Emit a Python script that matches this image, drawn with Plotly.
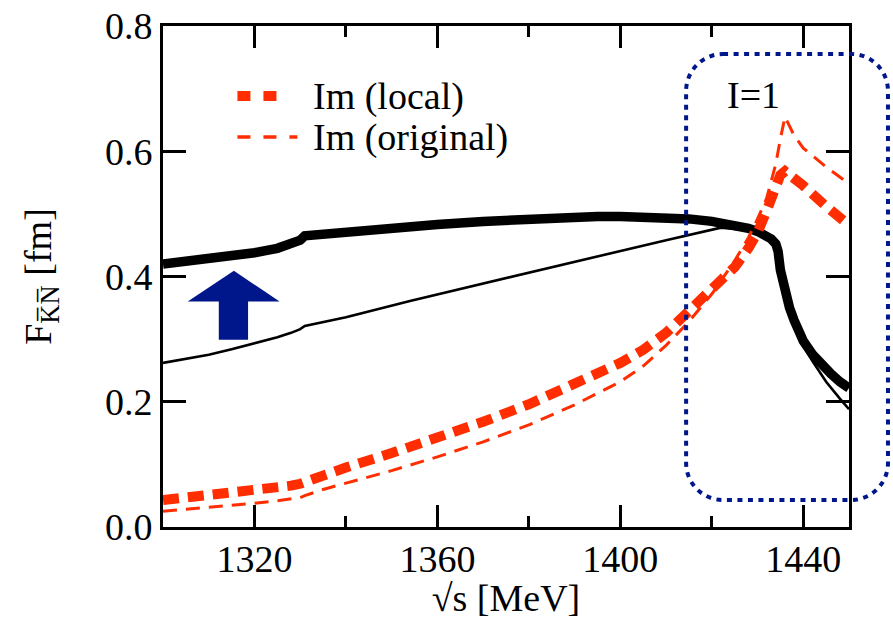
import plotly.graph_objects as go

# ---------------- data ----------------
x_re_local = [1300, 1305, 1310, 1315, 1320, 1325, 1328, 1330, 1331, 1335, 1340, 1350, 1360, 1370,
              1380, 1390, 1395, 1400, 1405, 1410, 1415, 1420, 1425, 1428, 1430, 1432, 1433, 1434,
              1434.5, 1435, 1436, 1437, 1438, 1440, 1442, 1444, 1446, 1448, 1450]
y_re_local = [0.420, 0.424, 0.428, 0.433, 0.438, 0.445, 0.451, 0.458, 0.465, 0.468, 0.471, 0.477,
              0.483, 0.488, 0.492, 0.495, 0.496, 0.496, 0.495, 0.494, 0.492, 0.488, 0.482, 0.477,
              0.472, 0.465, 0.460, 0.452, 0.440, 0.410, 0.375, 0.350, 0.330, 0.297, 0.276, 0.259,
              0.245, 0.232, 0.222]

x_re_orig = [1300, 1305, 1310, 1315, 1320, 1325, 1328, 1330, 1331, 1335, 1340, 1354, 1370, 1390,
             1410, 1422, 1428, 1432, 1434, 1435, 1436, 1438, 1440, 1442, 1445, 1448, 1450]
y_re_orig = [0.262, 0.268, 0.275, 0.284, 0.293, 0.303, 0.310, 0.316, 0.321, 0.327, 0.335, 0.361,
             0.389, 0.424, 0.458, 0.478, 0.474, 0.462, 0.445, 0.410, 0.370, 0.320, 0.290, 0.265,
             0.232, 0.205, 0.188]

x_im_local = [1300, 1310, 1320, 1325, 1328, 1330, 1331, 1335, 1340, 1350, 1360, 1370, 1380, 1390,
              1400, 1405, 1410, 1415, 1420, 1425, 1428, 1430, 1432, 1434, 1435, 1436, 1437, 1440,
              1445, 1450]
y_im_local = [0.043, 0.050, 0.058, 0.063, 0.066, 0.069, 0.072, 0.083, 0.095, 0.118, 0.142, 0.168,
              0.196, 0.227, 0.262, 0.283, 0.310, 0.345, 0.380, 0.415, 0.445, 0.470, 0.505, 0.545,
              0.562, 0.568, 0.563, 0.545, 0.512, 0.482]

x_im_orig = [1300, 1310, 1320, 1325, 1328, 1330, 1331, 1335, 1340, 1350, 1360, 1370, 1380, 1390,
             1400, 1405, 1410, 1415, 1420, 1425, 1428, 1430, 1432, 1434, 1435, 1436, 1437, 1438,
             1440, 1445, 1450]
y_im_orig = [0.025, 0.031, 0.038, 0.042, 0.045, 0.047, 0.050, 0.060, 0.070, 0.090, 0.112, 0.136,
             0.163, 0.195, 0.232, 0.257, 0.290, 0.328, 0.372, 0.425, 0.462, 0.492, 0.525, 0.580,
             0.620, 0.655, 0.640, 0.625, 0.605, 0.575, 0.548]

x_ticks = [1320, 1360, 1400, 1440]
y_ticks = [0.0, 0.2, 0.4, 0.6, 0.8]
legend_labels = ["Im (local)", "Im (original)"]
box_label = "I=1"

RED = "#ff2d00"
NAVY = "#00178c"
FONT = "Liberation Serif, Times New Roman, serif"
FS = 38

fig = go.Figure()
fig.add_trace(go.Scatter(x=x_re_orig, y=y_re_orig, mode="lines",
                         line=dict(color="black", width=2.6), showlegend=False))
fig.add_trace(go.Scatter(x=x_re_local, y=y_re_local, mode="lines",
                         line=dict(color="black", width=9.5), showlegend=False))
fig.add_trace(go.Scatter(x=x_im_orig, y=y_im_orig, mode="lines",
                         line=dict(color=RED, width=3, dash="14px,9px"), showlegend=False))
fig.add_trace(go.Scatter(x=x_im_local, y=y_im_local, mode="lines",
                         line=dict(color=RED, width=10, dash="16px,9px"), showlegend=False))

# plot-area geometry in pixels (for paper coordinate conversion)
L, R, T, B = 162.5, 849.0, 26.0, 527.0
W, H = R - L, B - T
def px(xp):
    return (xp - L) / W
def py(yp):
    return (B - yp) / H

# rounded dotted box (I=1 region)
bx0, bx1, by0, by1, rad = 686, 888, 54, 500, 37
k = 0.5523 * rad
def P(a, b):
    return f"{px(a):.5f},{py(b):.5f}"
path = (f"M {P(bx0 + rad, by0)} L {P(bx1 - rad, by0)} "
        f"C {P(bx1 - rad + k, by0)} {P(bx1, by0 + rad - k)} {P(bx1, by0 + rad)} "
        f"L {P(bx1, by1 - rad)} "
        f"C {P(bx1, by1 - rad + k)} {P(bx1 - rad + k, by1)} {P(bx1 - rad, by1)} "
        f"L {P(bx0 + rad, by1)} "
        f"C {P(bx0 + rad - k, by1)} {P(bx0, by1 - rad + k)} {P(bx0, by1 - rad)} "
        f"L {P(bx0, by0 + rad)} "
        f"C {P(bx0, by0 + rad - k)} {P(bx0 + rad - k, by0)} {P(bx0 + rad, by0)} Z")
fig.add_shape(type="path", xref="paper", yref="paper", path=path,
              line=dict(color=NAVY, width=4, dash="5px,5.5px"))

# blue arrow
arrow = ("M 1315.5,0.409 L 1325.5,0.360 L 1318.6,0.360 L 1318.6,0.299 "
         "L 1312.2,0.299 L 1312.2,0.360 L 1305.4,0.360 Z")
fig.add_shape(type="path", xref="x", yref="y", path=arrow,
              fillcolor=NAVY, line=dict(color=NAVY, width=0))

# legend (manual)
fig.add_shape(type="line", xref="paper", yref="paper",
              x0=px(237), x1=px(277), y0=py(96), y1=py(96),
              line=dict(color=RED, width=10, dash="13px,13px"))
fig.add_shape(type="line", xref="paper", yref="paper",
              x0=px(237), x1=px(297), y0=py(137), y1=py(137),
              line=dict(color=RED, width=3.5, dash="13px,13px"))
fig.add_annotation(xref="paper", yref="paper", x=px(311), y=py(97), text=legend_labels[0],
                   showarrow=False, xanchor="left", yanchor="middle",
                   font=dict(family=FONT, size=FS, color="black"))
fig.add_annotation(xref="paper", yref="paper", x=px(311), y=py(137), text=legend_labels[1],
                   showarrow=False, xanchor="left", yanchor="middle",
                   font=dict(family=FONT, size=FS, color="black"))
fig.add_annotation(xref="paper", yref="paper", x=px(753), y=py(95), text=box_label,
                   showarrow=False, xanchor="center", yanchor="middle",
                   font=dict(family=FONT, size=FS, color="black"))

fig.update_xaxes(range=[1300, 1450], tickvals=x_ticks, ticktext=[str(v) for v in x_ticks],
                 ticks="inside", ticklen=22, tickwidth=2.5, tickcolor="black",
                 showline=True, linewidth=3, linecolor="black", mirror="ticks",
                 showgrid=False, zeroline=False, ticklabelstandoff=-4,
                 minor=dict(tickvals=[1340, 1380, 1420], ticks="inside", ticklen=11,
                            tickwidth=2.5, tickcolor="black", showgrid=False),
                 title=dict(text="√s [MeV]", font=dict(family=FONT, size=FS, color="black"),
                            standoff=2),
                 tickfont=dict(family=FONT, size=FS, color="black"))
fig.update_yaxes(range=[0, 0.8], tickvals=y_ticks, ticktext=[f"{v:.1f}" for v in y_ticks],
                 ticks="inside", ticklen=23, tickwidth=2.5, tickcolor="black",
                 showline=True, linewidth=3, linecolor="black", mirror="ticks",
                 showgrid=False, zeroline=False,
                 title=dict(text="F<sub>K\u0305N\u0305</sub> [fm]",
                            font=dict(family=FONT, size=FS, color="black"), standoff=42),
                 tickfont=dict(family=FONT, size=FS, color="black"))

fig.update_layout(width=893, height=619, paper_bgcolor="white", plot_bgcolor="white",
                  margin=dict(l=L, r=893 - R, t=T, b=619 - B, autoexpand=False),
                  showlegend=False)

fig.write_html("out.html")
